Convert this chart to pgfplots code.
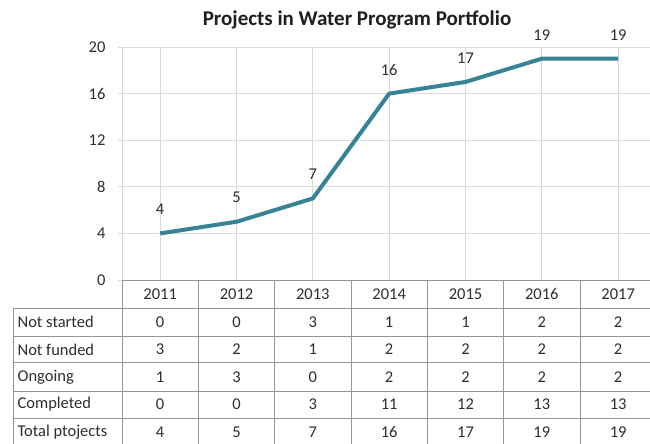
\documentclass[border=0pt]{standalone}
\usepackage{pgfplots}
\pgfplotsset{compat=1.18}
\usepackage{pgfplotstable}
\usepackage{fontspec}
\setmainfont{Carlito}
\definecolor{linecol}{RGB}{56,130,150}
\definecolor{vgrid}{RGB}{200,221,229}
\definecolor{hgrid}{RGB}{217,221,224}
\definecolor{tablegray}{RGB}{150,150,150}
\definecolor{txt}{RGB}{45,45,45}
\pgfplotstableread{
x year ns nf og cp tot
0 2011 0 3 1 0 4
1 2012 0 2 3 0 5
2 2013 3 1 0 3 7
3 2014 1 2 2 11 16
4 2015 1 2 2 12 17
5 2016 2 2 2 13 19
6 2017 2 2 2 13 19
}\datatable
\newcommand{\tfont}{\fontsize{16.5}{16.5}\selectfont}
\begin{document}
\begin{tikzpicture}
\begin{axis}[
  scale only axis, width=528pt, height=233pt,
  xmin=-0.5, xmax=6.417, ymin=0, ymax=20,
  ytick={0,4,...,20}, xtick={0,...,6}, xticklabels={},
  xmajorgrids, ymajorgrids,
  x grid style={draw=vgrid, line width=0.9pt},
  y grid style={draw=hgrid, line width=0.9pt},
  axis x line*=bottom, axis y line*=left,
  x axis line style={draw=tablegray, line width=0.9pt},
  y axis line style={draw=vgrid, line width=0.9pt},
  tick align=outside, major tick length=4pt,
  xtick style={draw=none},
  ytick style={draw=hgrid, line width=0.9pt},
  yticklabel style={font=\tfont, text=txt, xshift=-9pt},
  /pgf/number format/assume math mode=true,
  clip=false,
]
\addplot[linecol, line width=4pt, line join=round, mark=none,
  nodes near coords,
  every node near coord/.append style={anchor=center, yshift=24pt, text=txt, font=\tfont}]
  table[x=x, y=tot]{\datatable};

% table grid
\pgfplotsinvokeforeach{-2.40,-4.81,-7.12,-9.53,-11.85}{
  \draw[tablegray, line width=0.9pt] (axis cs:-1.928,#1) -- (axis cs:6.6,#1);
}
\pgfplotsinvokeforeach{-0.5,0.5,1.5,2.5,3.5,4.5,5.5}{
  \draw[tablegray, line width=0.9pt] (axis cs:#1,0) -- (axis cs:#1,-15);
}
\draw[tablegray, line width=0.9pt] (axis cs:-1.928,-2.40) -- (axis cs:-1.928,-15);

\pgfplotsset{tabrow/.style={draw=none, mark=none, nodes near coords, point meta=explicit symbolic,
  every node near coord/.append style={anchor=center, text=txt, font=\tfont}}}
\addplot[tabrow] table[x=x, y expr=-1.20, meta=year]{\datatable};
\addplot[tabrow] table[x=x, y expr=-3.61, meta=ns]{\datatable};
\addplot[tabrow] table[x=x, y expr=-5.97, meta=nf]{\datatable};
\addplot[tabrow] table[x=x, y expr=-8.33, meta=og]{\datatable};
\addplot[tabrow] table[x=x, y expr=-10.69, meta=cp]{\datatable};
\addplot[tabrow] table[x=x, y expr=-13.05, meta=tot]{\datatable};

\begin{scope}[every node/.style={anchor=west, text=txt, font=\tfont, inner sep=0pt}]
\node at (axis cs:-1.87,-3.61) {Not started};
\node at (axis cs:-1.87,-5.97) {Not funded};
\node at (axis cs:-1.87,-8.33) {Ongoing};
\node at (axis cs:-1.87,-10.69) {Completed};
\node at (axis cs:-1.87,-13.05) {Total ptojects};
\end{scope}

\node[font=\fontsize{21}{21}\selectfont\bfseries, text=black!88] at (axis cs:2.579,22.32) {Projects in Water Program Portfolio};
\end{axis}
\pgfresetboundingbox
\path ([shift={(-122pt,-164pt)}]current axis.south west) rectangle ([shift={(528pt,280pt)}]current axis.south west);
\end{tikzpicture}
\end{document}
